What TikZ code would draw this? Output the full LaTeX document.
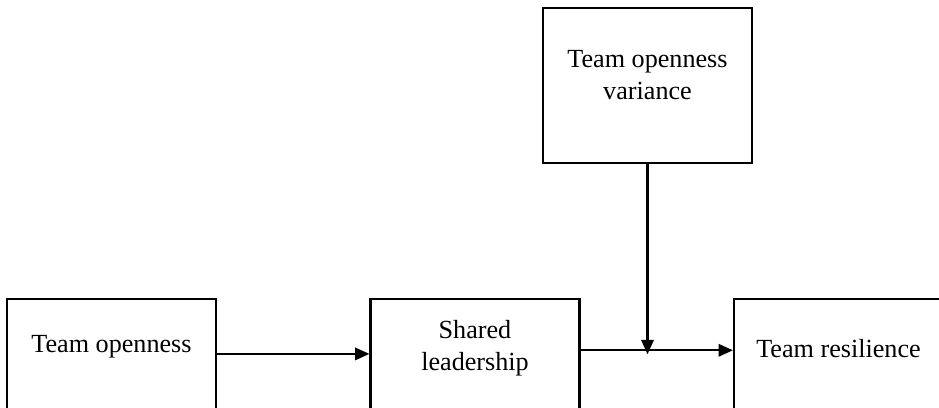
\documentclass[tikz,border=0pt]{standalone}
\usepackage{fontspec}
\setmainfont{Liberation Serif}
\usetikzlibrary{arrows.meta}
\tikzset{
  box/.style={draw, line width=1.5pt, rectangle, minimum width=5.225cm},
  lbl/.style={align=center, inner sep=0pt, font=\fontsize{18.6}{22.5}\selectfont},
  link/.style={draw, line width=1.5pt, -{Triangle[length=0.36cm,width=0.31cm]}}
}
\begin{document}
\begin{tikzpicture}
\useasboundingbox (0,0) rectangle (23.475,10.2);

\node[box, minimum height=2.745cm] (open) at (2.7875,1.3525) {};
\node[box, minimum height=2.745cm] (lead) at (11.875,1.3525) {};
\node[box, minimum height=2.745cm] (res) at (20.9625,1.3525) {};
\node[box, minimum height=3.875cm] (var) at (16.1875,8.0625) {};

\node[lbl] (openT) at ([yshift=0.18cm]open.center) {Team openness};
\node[lbl] (leadT) at ([yshift=0.15cm]lead.center) {Shared\\leadership};
\node[lbl] (resT) at ([yshift=0.14cm]res.center) {Team resilience};
\node[lbl] (varT) at ([yshift=0.26cm]var.center) {Team openness\\variance};

\coordinate (a) at ([yshift=0.09cm]lead.east);
\coordinate (b) at ([yshift=0.09cm]res.west);
\coordinate (m) at ([yshift=-0.1cm]var.south |- a);

\path[link] (open.east) -- (lead.west);
\path[link] (a) -- (b);
\path[link] (var.south) -- (m);
\end{tikzpicture}
\end{document}
